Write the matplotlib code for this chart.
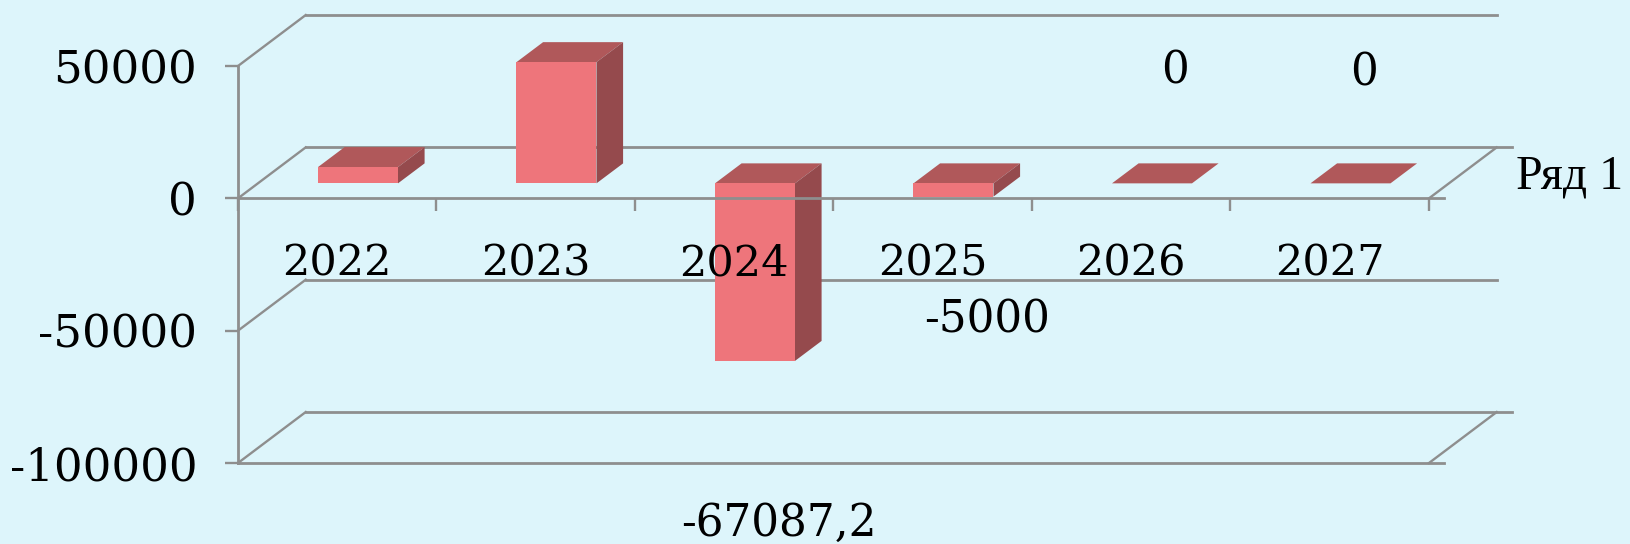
import matplotlib
matplotlib.use('Agg')
import matplotlib.pyplot as plt

years = ['2022', '2023', '2024', '2025', '2026', '2027']
values = [6150, 45800, -67087.2, -5000, 0, 0]
y_ticks = [50000, 0, -50000, -100000]
y_labels = ['50000', '0', '-50000', '-100000']
series_name = 'Ряд 1'

# only the last four bars carry a label, offsets are in pixels from the bar
shown_labels = {2: '-67087,2', 3: '-5000', 4: '0', 5: '0'}
label_offsets = {2: (45, -147), 3: (54, -108), 4: (44, 127), 5: (34, 125)}

bg = '#ddf5fb'
grid_col = '#8e8e8e'
front_col = '#ee757b'
top_col = '#b0585a'
side_col = '#954a4d'
serif = 'DejaVu Serif'

# fake 3d: depth of the walls and of the bars, in data units
wall_dx = 0.341
wall_dy = 19250
bar_left = 0.403
bar_w = 0.403
bar_base = 5660
bar_dx = 0.134
bar_dy = 7550

W, H = 1631, 544
fig = plt.figure(figsize=(W / 100, H / 100), dpi=100, facecolor=bg)
ax = fig.add_axes([238 / W, 1 - 463 / H, 1191 / W, 397 / H])
ax.set_facecolor('none')

lw = 2.0
px = 0.72
ext_front = 15 / 198.4

# walls and floor
for v in y_ticks:
    ax.plot([0, wall_dx], [v, v + wall_dy], color=grid_col, lw=lw * 0.85, clip_on=False, zorder=0.5)
    end = 6 + wall_dx
    if v in (0, -100000):
        end += ext_front
        ax.plot([6, 6 + wall_dx], [v, v + wall_dy], color=grid_col, lw=lw * 0.85, clip_on=False, zorder=0.5)
    ax.plot([wall_dx, end], [v + wall_dy, v + wall_dy], color=grid_col, lw=lw, clip_on=False, zorder=0.5)
ax.plot([0, 6 + ext_front], [-100000, -100000], color=grid_col, lw=lw, clip_on=False, zorder=0.5)

# bars
lefts = [i + bar_left for i in range(len(values))]
ax.bar(lefts, values, width=bar_w, bottom=bar_base, align='edge', color=front_col, zorder=1.2, clip_on=False)
for x, v in zip(lefts, values):
    top = bar_base + max(v, 0)
    bot = bar_base + min(v, 0)
    ax.fill([x, x + bar_w, x + bar_w + bar_dx, x + bar_dx],
            [top, top, top + bar_dy, top + bar_dy], color=top_col, lw=0, zorder=1.1, clip_on=False)
    if v != 0:
        ax.fill([x + bar_w, x + bar_w + bar_dx, x + bar_w + bar_dx, x + bar_w],
                [bot, bot + bar_dy, top + bar_dy, top], color=side_col, lw=0, zorder=1.1, clip_on=False)

ax.set_xlim(0, 6)
ax.set_ylim(-100000, 50000)

for s in ['top', 'right']:
    ax.spines[s].set_visible(False)
ax.spines['bottom'].set_position(('data', 0))
ax.spines['bottom'].set_bounds(0, 6 + ext_front)
ax.spines['bottom'].set_color(grid_col)
ax.spines['bottom'].set_linewidth(lw)
ax.spines['bottom'].set_zorder(3)
ax.spines['left'].set_color(grid_col)
ax.spines['left'].set_linewidth(lw)

ax.set_xticks(range(7))
ax.set_xticklabels([])
ax.set_xticks([i + 0.5 for i in range(6)], minor=True)
ax.set_xticklabels(years, minor=True, family=serif, fontsize=31)
ax.tick_params(axis='x', which='major', length=13 * px, width=lw * 0.85, color=grid_col)
ax.tick_params(axis='x', which='minor', length=0, pad=32)

ax.set_yticks(y_ticks)
ax.set_yticklabels(y_labels, family=serif, fontsize=32.5)
ax.tick_params(axis='y', length=13 * px, width=lw * 0.85, color=grid_col, pad=20)

# data labels
for i, txt in shown_labels.items():
    ax.annotate(txt, (i + 0.5, values[i]), xytext=(label_offsets[i][0] * px, label_offsets[i][1] * px),
                textcoords='offset points', ha='center', va='center', family=serif,
                fontsize=31.5, annotation_clip=False, color='black', zorder=5)

fig.text(1516 / W, 1 - 188 / H, series_name, family='Liberation Serif', fontsize=34.5, color='black')

fig.savefig('out.png', dpi=100, facecolor=bg)
